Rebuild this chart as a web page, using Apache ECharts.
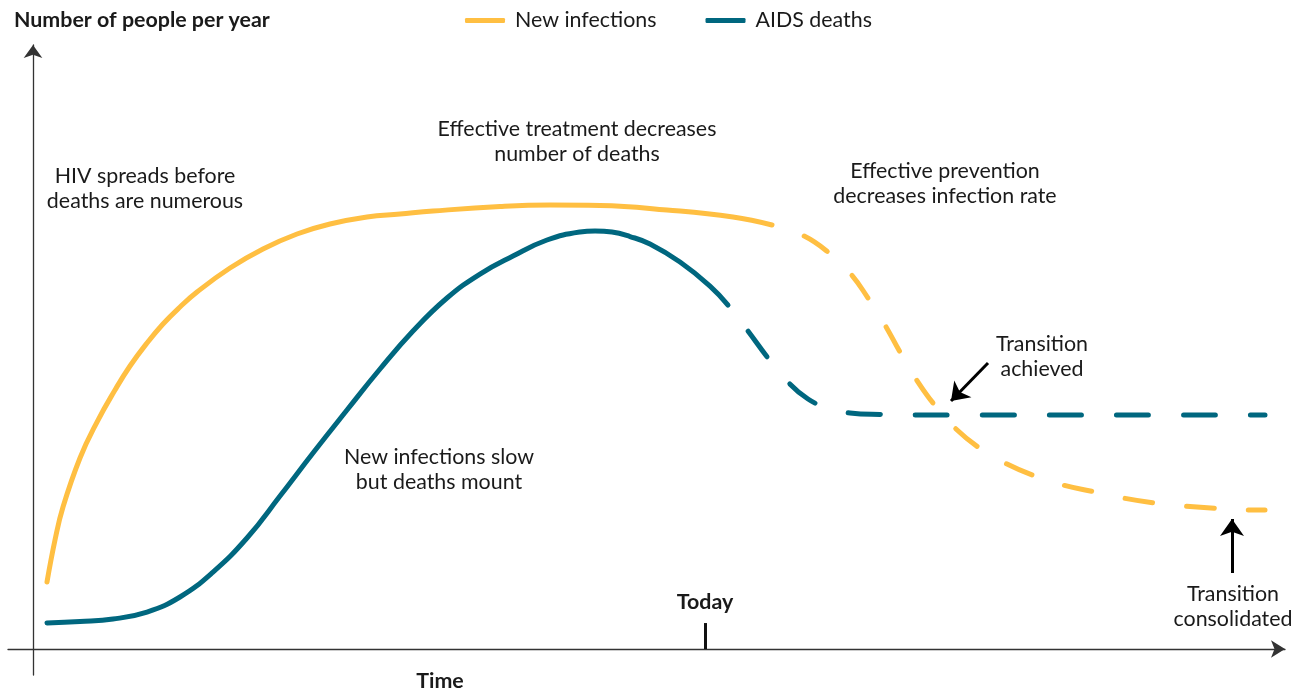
<!DOCTYPE html>
<html>
<head>
<meta charset="utf-8">
<script src="https://cdn.jsdelivr.net/npm/echarts@6/dist/echarts.min.js"></script>
<style>
html,body{margin:0;padding:0;background:#fff;}
#chart{width:1301px;height:692px;}
</style>
</head>
<body>
<div id="chart"></div>
<script>
// Series names
const seriesNames = ['New infections', 'AIDS deaths'];

// New infections (time, people): solid part and dashed (projected) part
const infectionsSolid = [
  [1.12, 11.17], [1.76, 18.17], [2.40, 23.67], [3.76, 31.83], [5.12, 37.83], [6.56, 43.17],
  [7.76, 47.17], [9.12, 51.0], [10.40, 54.17], [11.76, 57.0], [13.12, 59.5], [15.76, 63.5],
  [18.40, 66.67], [21.12, 69.17], [23.76, 70.83], [26.72, 72.0], [29.36, 72.5], [32.0, 73.0],
  [37.36, 73.75], [41.36, 74.0], [45.36, 73.92], [50.72, 73.17], [56.0, 72.0], [59.12, 70.67]
];
const infectionsDashed = [
  [59.12, 70.67], [61.52, 69.0], [63.6, 66.17], [65.36, 62.67], [66.8, 58.5], [68.16, 54.0],
  [69.36, 49.5], [70.8, 44.5], [72.32, 40.17], [73.76, 36.83], [75.6, 33.67], [77.76, 31.0],
  [80.16, 28.83], [82.4, 27.33], [84.96, 26.17], [87.2, 25.17], [89.76, 24.33], [92.16, 23.83],
  [94.8, 23.42], [97.12, 23.17], [98.56, 23.17]
];

// AIDS deaths
const deathsSolid = [
  [1.12, 4.33], [3.76, 4.58], [6.4, 5.0], [9.12, 6.17], [11.76, 8.67], [14.4, 12.83],
  [17.12, 18.5], [19.76, 25.5], [22.4, 32.67], [25.12, 39.83], [27.76, 46.67], [30.4, 53.0],
  [33.12, 58.5], [35.76, 62.5], [38.4, 65.5], [41.12, 68.17], [43.76, 69.5], [44.96, 69.67],
  [46.32, 69.5], [47.76, 68.75], [49.36, 67.5], [51.76, 64.5], [54.16, 60.5], [55.6, 57.33]
];
const deathsDashed = [
  [55.6, 57.33], [57.2, 53.0], [58.8, 48.5], [60.4, 44.5], [62.0, 41.67], [63.6, 40.17],
  [65.36, 39.33], [67.76, 39.08], [70.96, 39.0], [98.56, 39.0]
];

// "Today" marker (time) and tick height
const todayTime = 53.76;
const todayTickHeight = 4.33;

// Annotation arrows: [from, to] in (time, people)
const arrowAchieved = [[76.4, 47.67], [73.44, 41.33]];
const arrowConsolidated = [[95.92, 12.67], [95.92, 21.67]];

const YELLOW = '#FFBF42';
const TEAL = '#00677F';
const FONT = 'Lato, "Open Sans", sans-serif';
const TXT = '#1a1a1a';
const FS = 21.4;

const chart = echarts.init(document.getElementById('chart'));

function lineSeries(name, data, color, dash, extra) {
  return Object.assign({
    name: name,
    type: 'line',
    data: data,
    smooth: 0.45,
    showSymbol: false,
    symbol: 'none',
    silent: true,
    itemStyle: { color: color },
    lineStyle: {
      color: color, width: 5, cap: 'round', join: 'round',
      type: dash ? dash.pattern : 'solid',
      dashOffset: dash ? dash.offset : 0
    },
    z: 3
  }, extra || {});
}

function text(str, x, y, opts) {
  return {
    type: 'text',
    x: x, y: y,
    style: Object.assign({
      text: str,
      fill: TXT,
      font: FS + 'px ' + FONT,
      align: 'center',
      verticalAlign: 'middle',
      lineHeight: 25
    }, opts || {})
  };
}

const option = {
  animation: false,
  backgroundColor: '#fff',
  grid: { left: 8, right: 16, top: 45, bottom: 17, containLabel: false },
  legend: {
    data: seriesNames,
    left: 460,
    top: 5,
    icon: 'roundRect',
    itemWidth: 40,
    itemHeight: 5,
    itemGap: 49,
    textStyle: { fontFamily: FONT, fontSize: FS, color: TXT, padding: [0, 0, 0, 5] },
    selectedMode: false
  },
  xAxis: {
    type: 'value',
    min: -2, max: 100.16,
    axisLine: { show: true, onZero: true, symbol: ['none', 'arrow'], symbolSize: [13, 14],
      lineStyle: { color: '#333', width: 1.3 } },
    axisTick: { show: false }, axisLabel: { show: false }, splitLine: { show: false }
  },
  yAxis: {
    type: 'value',
    min: -4.33, max: 100.67,
    axisLine: { show: true, onZero: true, symbol: ['none', 'arrow'], symbolSize: [14, 13],
      lineStyle: { color: '#333', width: 1.3 } },
    axisTick: { show: false }, axisLabel: { show: false }, splitLine: { show: false }
  },
  series: [
    lineSeries(seriesNames[0], infectionsSolid, YELLOW, null, {
      markLine: {
        silent: true,
        symbol: ['none', 'none'],
        data: [
          [
            { coord: [todayTime, 0], lineStyle: { color: '#111', width: 3, type: 'solid' },
              label: { show: true, position: 'end', formatter: 'Today', distance: 10,
                fontFamily: FONT, fontSize: FS, fontWeight: 'bold', color: TXT } },
            { coord: [todayTime, todayTickHeight] }
          ]
        ]
      }
    }),
    lineSeries(seriesNames[0], infectionsDashed, YELLOW, { pattern: [28, 34], offset: 28 }),
    lineSeries(seriesNames[1], deathsSolid, TEAL, null),
    lineSeries(seriesNames[1], deathsDashed, TEAL, { pattern: [32, 35], offset: 34 }, {
      markLine: {
        silent: true,
        symbol: ['none', 'arrow'],
        symbolSize: [18, 17],
        label: { show: false },
        lineStyle: { color: '#000', width: 3, type: 'solid' },
        data: [
          [{ coord: arrowAchieved[0] }, { coord: arrowAchieved[1] }],
          [{ coord: arrowConsolidated[0] }, { coord: arrowConsolidated[1] }]
        ]
      }
    })
  ],
  graphic: [
    text('Number of people per year', 14, 20, { align: 'left', font: 'bold ' + FS + 'px ' + FONT }),
    text('Time', 440, 681, { font: 'bold ' + FS + 'px ' + FONT }),
    text('HIV spreads before\ndeaths are numerous', 145, 188.5),
    text('Effective treatment decreases\nnumber of deaths', 577, 141.5),
    text('Effective prevention\ndecreases infection rate', 945, 183.5),
    text('Transition\nachieved', 1042, 356.5),
    text('New infections slow\nbut deaths mount', 439, 469.5),
    text('Transition\nconsolidated', 1233, 607)
  ]
};

chart.setOption(option);
</script>
</body>
</html>
